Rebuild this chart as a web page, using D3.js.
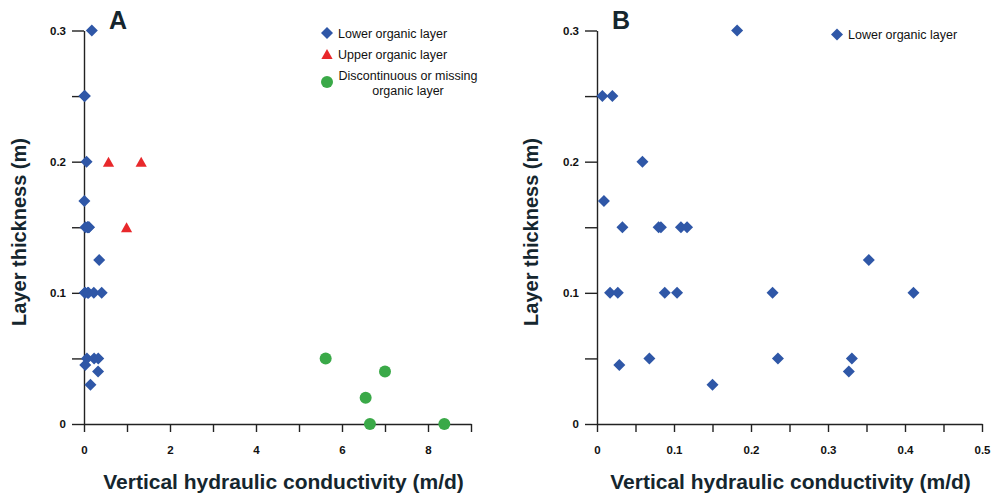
<!DOCTYPE html>
<html>
<head>
<meta charset="utf-8">
<script src="https://cdn.jsdelivr.net/npm/d3@7"></script>
<style>
    body { margin: 0; background: #fff; }
    svg { display: block; font-family: "Liberation Sans", Arial, Helvetica, sans-serif; }
    .tick text { font-size: 11.5px; font-weight: bold; fill: #111; }
    .domain, .tick line { stroke: #222; stroke-width: 1.4px; }
    .axis-title { font-size: 21px; font-weight: bold; fill: #15262e; }
    .y-title { font-size: 20px; }
    .panel-label { font-size: 25px; font-weight: bold; fill: #15262e; }
    .legend-text { font-size: 12.5px; fill: #111; }
</style>
</head>
<body>
<div id="chart"></div>
<script>
// Lower organic layer (shown in both panels)
const lowerK = [0.182, 0.007, 0.020, 0.059, 0.009, 0.033, 0.080, 0.083, 0.109, 0.117, 0.353,
    0.017, 0.027, 0.088, 0.104, 0.228, 0.411, 0.029, 0.068, 0.235, 0.331, 0.327, 0.150];
const lowerThick = [0.3, 0.25, 0.25, 0.2, 0.17, 0.15, 0.15, 0.15, 0.15, 0.15, 0.125,
    0.1, 0.1, 0.1, 0.1, 0.1, 0.1, 0.045, 0.05, 0.05, 0.05, 0.04, 0.03];

// Upper organic layer (panel A only)
const upperK = [0.57, 1.33, 0.99];
const upperThick = [0.2, 0.2, 0.15];

// Discontinuous or missing organic layer (panel A only)
const missingK = [5.62, 7.0, 6.55, 6.65, 8.38];
const missingThick = [0.05, 0.04, 0.02, 0, 0];

// Axis ticks and labels
const yTicks = [0, 0.05, 0.1, 0.15, 0.2, 0.25, 0.3];
const yLabels = [0, 0.1, 0.2, 0.3];
const xTicksA = [0, 1, 2, 3, 4, 5, 6, 7, 8, 9];
const xLabelsA = [0, 2, 4, 6, 8];
const xTicksB = [0, 0.05, 0.1, 0.15, 0.2, 0.25, 0.3, 0.35, 0.4, 0.45, 0.5];
const xLabelsB = [0, 0.1, 0.2, 0.3, 0.4, 0.5];

const xTitle = 'Vertical hydraulic conductivity (m/d)';
const yTitle = 'Layer thickness (m)';

const colors = { lower: '#2f57a7', upper: '#e8282b', missing: '#3aa948' };

const shapes = {
    lower: 'M0,-6L6,0L0,6L-6,0Z',
    upper: 'M0,-5L5.6,5L-5.6,5Z',
    missing: d3.symbol(d3.symbolCircle, Math.PI * 36)()
};

const svg = d3.select('#chart')
    .append('svg')
    .attr('width', 991)
    .attr('height', 497);

const zip = (xs, ys) => xs.map((x, i) => ({ x, y: ys[i] }));

function drawPanel(opts) {
    const g = svg.append('g');

    const x = d3.scaleLinear().domain(opts.xDomain).range(opts.xRange);
    const y = d3.scaleLinear().domain([0, 0.3]).range([424, 30.5]);

    const fmt = d3.format('~g');

    g.append('g')
        .attr('transform', `translate(0,${y(0)})`)
        .call(d3.axisBottom(x)
            .tickValues(opts.xTicks)
            .tickSize(8)
            .tickSizeOuter(0)
            .tickPadding(14)
            .tickFormat(d => opts.xLabels.includes(d) ? fmt(d) : ''));

    g.append('g')
        .attr('transform', `translate(${x(0)},0)`)
        .call(d3.axisLeft(y)
            .tickValues(yTicks)
            .tickSize(12)
            .tickSizeOuter(0)
            .tickPadding(6)
            .tickFormat(d => yLabels.includes(d) ? fmt(d) : ''));

    // Axis titles
    g.append('text')
        .attr('class', 'axis-title')
        .attr('x', (opts.xRange[0] + opts.xRange[1]) / 2 + opts.titleShift)
        .attr('y', 489)
        .attr('text-anchor', 'middle')
        .text(xTitle);

    g.append('text')
        .attr('class', 'axis-title y-title')
        .attr('transform', `translate(${opts.yTitleX},232) rotate(-90)`)
        .attr('text-anchor', 'middle')
        .text(yTitle);

    g.append('text')
        .attr('class', 'panel-label')
        .attr('x', opts.labelX)
        .attr('y', 29)
        .text(opts.label);

    // Points
    opts.series.forEach(s => {
        g.append('g')
            .selectAll('path')
            .data(zip(s.xs, s.ys))
            .join('path')
            .attr('d', shapes[s.key])
            .attr('transform', d => `translate(${x(d.x)},${y(d.y)})`)
            .attr('fill', colors[s.key]);
    });

    // Legend
    const legend = g.append('g')
        .attr('transform', `translate(${opts.legendX},0)`);
    opts.legend.forEach(item => {
        legend.append('path')
            .attr('d', shapes[item.key])
            .attr('transform', `translate(0,${item.y})`)
            .attr('fill', colors[item.key]);
        item.lines.forEach((line, i) => {
            legend.append('text')
                .attr('class', 'legend-text')
                .attr('x', item.anchor === 'middle' ? 81 : 11)
                .attr('y', item.textY + i * 15)
                .attr('text-anchor', item.anchor || 'start')
                .text(line);
        });
    });
}

drawPanel({
    label: 'A',
    labelX: 109,
    xDomain: [0, 9],
    xRange: [84, 471],
    xTicks: xTicksA,
    xLabels: xLabelsA,
    titleShift: 6,
    yTitleX: 26,
    legendX: 327,
    series: [
        { key: 'lower', xs: lowerK, ys: lowerThick },
        { key: 'upper', xs: upperK, ys: upperThick },
        { key: 'missing', xs: missingK, ys: missingThick }
    ],
    legend: [
        { key: 'lower', y: 33, textY: 37.5, lines: ['Lower organic layer'] },
        { key: 'upper', y: 54, textY: 58.5, lines: ['Upper organic layer'] },
        { key: 'missing', y: 82, textY: 80, anchor: 'middle', lines: ['Discontinuous or missing', 'organic layer'] }
    ]
});

drawPanel({
    label: 'B',
    labelX: 612,
    xDomain: [0, 0.5],
    xRange: [597, 982],
    xTicks: xTicksB,
    xLabels: xLabelsB,
    titleShift: 1,
    yTitleX: 538,
    legendX: 837,
    series: [
        { key: 'lower', xs: lowerK, ys: lowerThick }
    ],
    legend: [
        { key: 'lower', y: 34.5, textY: 39, lines: ['Lower organic layer'] }
    ]
});
</script>
</body>
</html>
